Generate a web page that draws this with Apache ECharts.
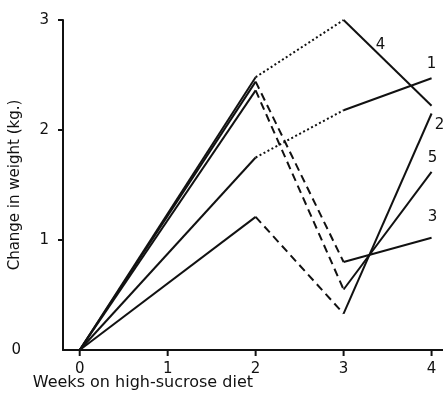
<!DOCTYPE html>
<html>
<head>
<meta charset="utf-8">
<script src="https://cdn.jsdelivr.net/npm/echarts@6/dist/echarts.min.js"></script>
<style>
html, body { margin: 0; padding: 0; background: #fff; }
#chart { width: 443px; height: 396px; }
</style>
</head>
<body>
<div id="chart"></div>
<script>
//////////// 데이터 ////////////
// weeks at which weight was measured
var weeks = [0, 2, 3, 4];
var xTicks = [0, 1, 2, 3, 4];
var yTicks = [1, 2, 3];

// change in weight (kg.) per subject
var subject1 = [0, 1.75, 2.18, 2.47];
var subject2 = [0, 1.21, 0.33, 2.15];
var subject3 = [0, 2.44, 0.80, 1.02];
var subject4 = [0, 2.48, 3.00, 2.22];
var subject5 = [0, 2.36, 0.55, 1.62];

// line style of each interval (0-2, 2-3, 3-4)
var styles1 = ['solid', 'dotted', 'solid'];
var styles2 = ['solid', 'dashed', 'solid'];
var styles3 = ['solid', 'dashed', 'solid'];
var styles4 = ['solid', 'dotted', 'solid'];
var styles5 = ['solid', 'dashed', 'solid'];

var subjectNames = ['1', '2', '3', '4', '5'];

//////////// 차트 구성 ////////////
var font = 'DejaVu Sans';
var ink = '#111';
var xMin = -0.19;
var xMax = 4.13;

var dashTypes = {
	solid: 'solid',
	dotted: [2, 2.5],
	dashed: [8, 5]
};

// where the number of each line sits (point index, offset)
var labelPlaces = [
	{ at: 3, offset: [0, -14] },
	{ at: 3, offset: [8, 12] },
	{ at: 3, offset: [1, -21] },
	{ at: 2, offset: [37, 25] },
	{ at: 3, offset: [1, -14] }
];

var subjects = [subject1, subject2, subject3, subject4, subject5];
var styles = [styles1, styles2, styles3, styles4, styles5];

function buildSeries() {
	var series = [];
	subjects.forEach(function(values, s) {
		var place = labelPlaces[s];
		var labelSeg = Math.min(place.at, weeks.length - 2);
		for (var i = 0; i < weeks.length - 1; i++) {
			var data = [];
			for (var j = i; j <= i + 1; j++) {
				var point = { value: [weeks[j], values[j]] };
				if (i === labelSeg && j === place.at) {
					point.label = {
						show: true,
						formatter: subjectNames[s],
						position: 'inside',
						offset: place.offset,
						color: ink,
						fontFamily: font,
						fontSize: 15
					};
				}
				data.push(point);
			}
			series.push({
				type: 'line',
				data: data,
				symbol: 'circle',
				symbolSize: 1,
				showSymbol: true,
				itemStyle: { color: 'rgba(0,0,0,0)' },
				clip: false,
				lineStyle: {
					color: ink,
					width: 2,
					type: dashTypes[styles[s][i]]
				}
			});
		}
	});

	// axis ticks (drawn through the axis scales)
	series.push({
		type: 'custom',
		silent: true,
		clip: false,
		z: 3,
		data: xTicks.map(function(v) { return [v, 0]; }),
		renderItem: function(params, api) {
			var p = api.coord([api.value(0), api.value(1)]);
			return {
				type: 'line',
				shape: { x1: p[0], y1: p[1], x2: p[0], y2: p[1] + 6 },
				style: { stroke: ink, lineWidth: 2 }
			};
		}
	});
	series.push({
		type: 'custom',
		silent: true,
		clip: false,
		z: 3,
		data: yTicks.map(function(v) { return [xMin, v]; }),
		renderItem: function(params, api) {
			var p = api.coord([api.value(0), api.value(1)]);
			return {
				type: 'line',
				shape: { x1: p[0] - 5, y1: p[1], x2: p[0], y2: p[1] },
				style: { stroke: ink, lineWidth: 2 }
			};
		}
	});
	return series;
}

var chart = echarts.init(document.getElementById('chart'));
var option = {
	animation: false,
	// grid is pulled in by the axis names to left 63 / bottom 350
	grid: { left: 55, right: 0, top: 20, bottom: 42 },
	xAxis: {
		type: 'value',
		min: xMin,
		max: xMax,
		name: 'Weeks on high-sucrose diet',
		nameLocation: 'middle',
		nameGap: 25,
		nameMoveOverlap: false,
		nameTextStyle: {
			color: ink, fontFamily: font, fontSize: 16,
			align: 'right'
		},
		axisLine: { lineStyle: { color: ink, width: 2 } },
		axisTick: { show: false },
		axisLabel: {
			customValues: xTicks, margin: 12,
			color: ink, fontFamily: font, fontSize: 15
		},
		splitLine: { show: false }
	},
	yAxis: {
		type: 'value',
		min: 0,
		max: 3,
		interval: 1,
		name: 'Change in weight (kg.)',
		nameLocation: 'middle',
		nameGap: 40,
		nameMoveOverlap: false,
		nameTextStyle: { color: ink, fontFamily: font, fontSize: 15 },
		axisLine: { show: true, onZero: false, lineStyle: { color: ink, width: 2 } },
		axisTick: { show: false },
		axisLabel: {
			margin: 14,
			color: ink, fontFamily: font, fontSize: 15,
			formatter: function(v) { return v === 0 ? '{z|0}' : String(v); },
			rich: { z: { color: ink, fontFamily: font, fontSize: 15, padding: [0, 28, 0, 0] } }
		},
		splitLine: { show: false }
	},
	series: buildSeries()
};

chart.setOption(option);
</script>
</body>
</html>
